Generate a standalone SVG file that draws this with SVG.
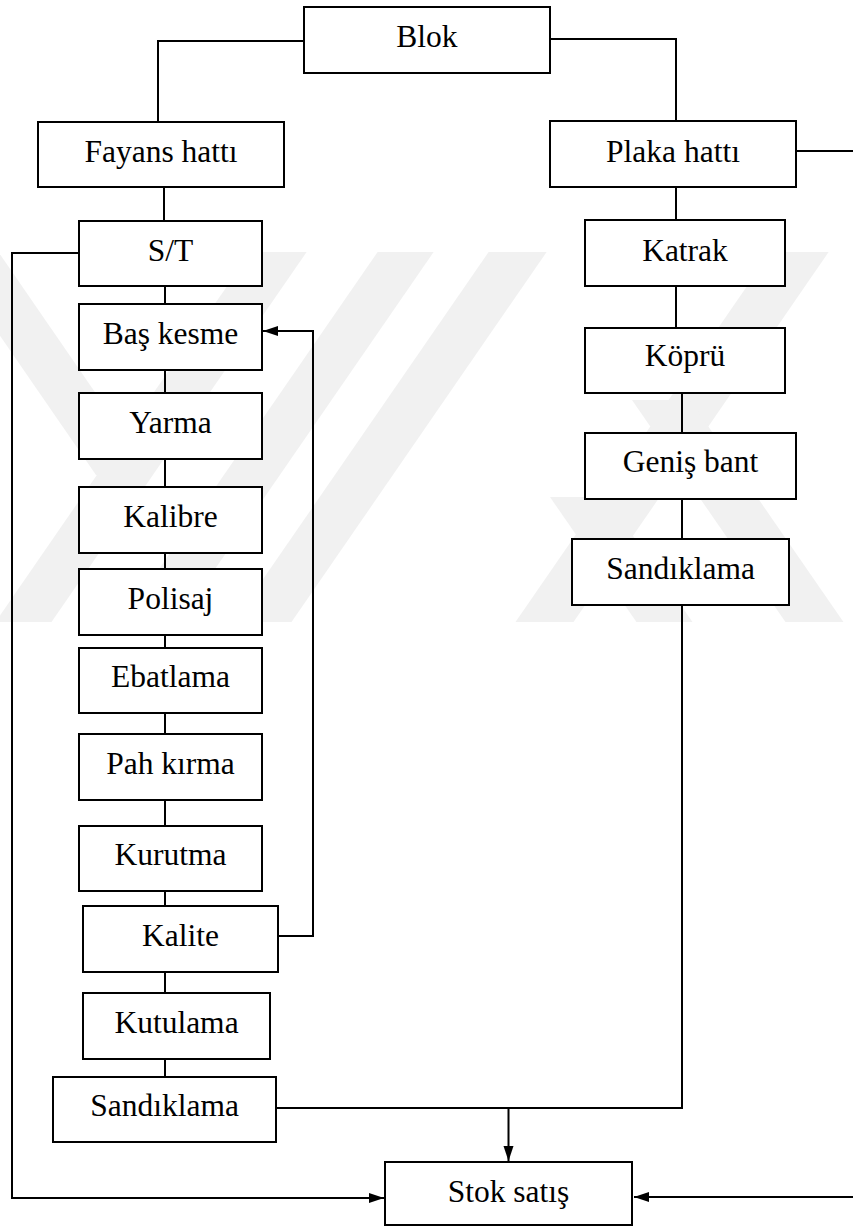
<svg xmlns="http://www.w3.org/2000/svg" width="853" height="1227" viewBox="0 0 853 1227">
<style>
.box{fill:#fff;stroke:#000;stroke-width:2}
.lbl{font-family:"Liberation Serif","Times New Roman",serif;font-size:31.5px;fill:#000;text-anchor:middle}
.ln{fill:none;stroke:#000;stroke-width:2}
.wm{fill:#f1f1f1}
</style>
<defs>
<marker id="arr" markerUnits="userSpaceOnUse" markerWidth="16" markerHeight="12" refX="15" refY="6" orient="auto">
<path d="M0,1 L15,6 L0,11 Z" fill="#000"/>
</marker>
<clipPath id="wmclip"><rect x="0" y="252" width="853" height="370"/></clipPath>
</defs>
<rect x="0" y="0" width="853" height="1227" fill="#fff"/>
<g id="watermark" clip-path="url(#wmclip)">
<polygon class="wm" points="252,250 308,250 46,630 -10,630"/>
<polygon class="wm" points="379,250 435,250 173,630 117,630"/>
<polygon class="wm" points="490,250 548,250 286,630 228,630"/>
<polygon class="wm" points="772,250 830,250 568,630 510,630"/>
<polygon class="wm" points="-59,250 -3,250 152,475 96,475"/>
<polygon class="wm" points="632,400 690,400 849,630 791,630"/>
<polygon class="wm" points="550,497 606,497 698,630 642,630"/>
</g>
<g id="connectors">
<path class="ln" d="M304,41 H158 V122"/>
<path class="ln" d="M550,39 H676 V121"/>
<path class="ln" d="M796,151 H858 V1197 H634" marker-end="url(#arr)"/>
<path class="ln" d="M164,187 V221"/>
<path class="ln" d="M676,187 V220"/>
<path class="ln" d="M79,253 H12 V1198 H384" marker-end="url(#arr)"/>
<path class="ln" d="M165,286 V304"/>
<path class="ln" d="M278,936 H313 V331 H263" marker-end="url(#arr)"/>
<path class="ln" d="M676,286 V328"/>
<path class="ln" d="M165,370 V393"/>
<path class="ln" d="M682,393 V433"/>
<path class="ln" d="M165,459 V487"/>
<path class="ln" d="M682,499 V539"/>
<path class="ln" d="M165,553 V569"/>
<path class="ln" d="M165,635 V648"/>
<path class="ln" d="M165,713 V734"/>
<path class="ln" d="M165,800 V826"/>
<path class="ln" d="M165,891 V906"/>
<path class="ln" d="M165,972 V993"/>
<path class="ln" d="M165,1059 V1077"/>
<path class="ln" d="M682,605 V1108 H276"/>
<path class="ln" d="M508.5,1108 V1161" marker-end="url(#arr)"/>
</g>
<g id="blok"><rect class="box" x="304" y="7" width="246" height="66"/><text class="lbl" x="427" y="47">Blok</text></g>
<g id="fayans"><rect class="box" x="38" y="122" width="246" height="65"/><text class="lbl" x="161" y="162">Fayans hattı</text></g>
<g id="plaka"><rect class="box" x="550" y="121" width="246" height="66"/><text class="lbl" x="673" y="161.5">Plaka hattı</text></g>
<g id="st"><rect class="box" x="79" y="221" width="183" height="65"/><text class="lbl" x="170.5" y="261">S/T</text></g>
<g id="katrak"><rect class="box" x="585" y="220" width="200" height="66"/><text class="lbl" x="685" y="261">Katrak</text></g>
<g id="baskesme"><rect class="box" x="79" y="304" width="183" height="66"/><text class="lbl" x="170.5" y="343.5">Baş kesme</text></g>
<g id="kopru"><rect class="box" x="585" y="328" width="200" height="65"/><text class="lbl" x="685" y="366">Köprü</text></g>
<g id="yarma"><rect class="box" x="79" y="393" width="183" height="66"/><text class="lbl" x="170.5" y="432.5">Yarma</text></g>
<g id="genisbant"><rect class="box" x="585" y="433" width="211" height="66"/><text class="lbl" x="690.5" y="472">Geniş bant</text></g>
<g id="kalibre"><rect class="box" x="79" y="487" width="183" height="66"/><text class="lbl" x="170.5" y="526.5">Kalibre</text></g>
<g id="sandiklama-r"><rect class="box" x="572" y="539" width="217" height="66"/><text class="lbl" x="680.5" y="578.5">Sandıklama</text></g>
<g id="polisaj"><rect class="box" x="79" y="569" width="183" height="66"/><text class="lbl" x="170.5" y="608.5">Polisaj</text></g>
<g id="ebatlama"><rect class="box" x="79" y="648" width="183" height="65"/><text class="lbl" x="170.5" y="687">Ebatlama</text></g>
<g id="pahkirma"><rect class="box" x="79" y="734" width="183" height="66"/><text class="lbl" x="170.5" y="773.5">Pah kırma</text></g>
<g id="kurutma"><rect class="box" x="79" y="826" width="183" height="65"/><text class="lbl" x="170.5" y="865">Kurutma</text></g>
<g id="kalite"><rect class="box" x="83" y="906" width="195" height="66"/><text class="lbl" x="180.5" y="945.5">Kalite</text></g>
<g id="kutulama"><rect class="box" x="83" y="993" width="187" height="66"/><text class="lbl" x="176.5" y="1032.5">Kutulama</text></g>
<g id="sandiklama-l"><rect class="box" x="53" y="1077" width="223" height="65"/><text class="lbl" x="164.5" y="1116">Sandıklama</text></g>
<g id="stoksatis"><rect class="box" x="385" y="1162" width="247" height="63"/><text class="lbl" x="508.5" y="1201.5">Stok satış</text></g>
</svg>
